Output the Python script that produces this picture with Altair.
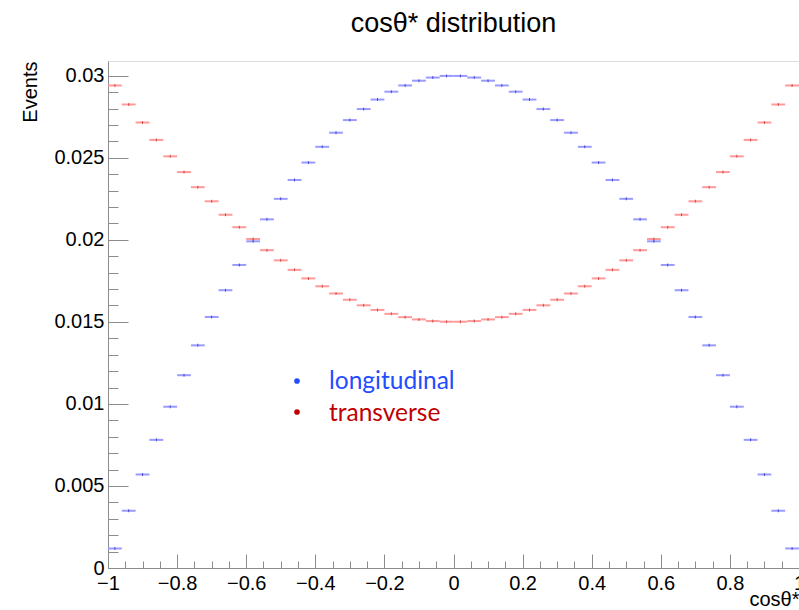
import altair as alt
import pandas as pd

# bin edges of the histogram (50 bins on [-1, 1])
edges = [-1.00, -0.96, -0.92, -0.88, -0.84, -0.80, -0.76, -0.72, -0.68, -0.64,
         -0.60, -0.56, -0.52, -0.48, -0.44, -0.40, -0.36, -0.32, -0.28, -0.24,
         -0.20, -0.16, -0.12, -0.08, -0.04, 0.00, 0.04, 0.08, 0.12, 0.16,
         0.20, 0.24, 0.28, 0.32, 0.36, 0.40, 0.44, 0.48, 0.52, 0.56,
         0.60, 0.64, 0.68, 0.72, 0.76, 0.80, 0.84, 0.88, 0.92, 0.96, 1.00]

longitudinal = [0.00119, 0.00349, 0.00570, 0.00781, 0.00983, 0.01175, 0.01357, 0.01530, 0.01693, 0.01847,
                0.01991, 0.02125, 0.02250, 0.02365, 0.02471, 0.02567, 0.02653, 0.02730, 0.02797, 0.02855,
                0.02903, 0.02941, 0.02970, 0.02989, 0.02999, 0.02999, 0.02989, 0.02970, 0.02941, 0.02903,
                0.02855, 0.02797, 0.02730, 0.02653, 0.02567, 0.02471, 0.02365, 0.02250, 0.02125, 0.01991,
                0.01847, 0.01693, 0.01530, 0.01357, 0.01175, 0.00983, 0.00781, 0.00570, 0.00349, 0.00119]

transverse = [0.02941, 0.02825, 0.02715, 0.02609, 0.02509, 0.02413, 0.02321, 0.02235, 0.02153, 0.02077,
              0.02005, 0.01937, 0.01875, 0.01817, 0.01765, 0.01717, 0.01673, 0.01635, 0.01601, 0.01573,
              0.01549, 0.01529, 0.01515, 0.01505, 0.01501, 0.01501, 0.01505, 0.01515, 0.01529, 0.01549,
              0.01573, 0.01601, 0.01635, 0.01673, 0.01717, 0.01765, 0.01817, 0.01875, 0.01937, 0.02005,
              0.02077, 0.02153, 0.02235, 0.02321, 0.02413, 0.02509, 0.02609, 0.02715, 0.02825, 0.02941]

x_major = [-1, -0.8, -0.6, -0.4, -0.2, 0, 0.2, 0.4, 0.6, 0.8, 1]
x_minor = [round(-1 + 0.05 * i, 2) for i in range(41)]
y_major = [0, 0.005, 0.01, 0.015, 0.02, 0.025, 0.03]
y_minor = [round(0.001 * i, 3) for i in range(31)]

lo = edges[:-1]
hi = edges[1:]
centers = [(a + b) / 2 for a, b in zip(lo, hi)]
df_l = pd.DataFrame({"xlo": lo, "xhi": hi, "x": centers, "v": longitudinal})
df_t = pd.DataFrame({"xlo": lo, "xhi": hi, "x": centers, "v": transverse})

FONT = "Liberation Sans"
GREY = "#8c8c8c"
xs = alt.Scale(domain=[-1, 1], nice=False, zero=False)
ys = alt.Scale(domain=[0, 0.0309], nice=False, zero=False)

main_x = alt.Axis(orient="bottom", values=x_major, format="~g", ticks=False, tickSize=0,
                  labelFont=FONT, labelFontSize=20, labelColor="black", labelPadding=5,
                  labelFlush=False, labelOverlap=False, labelBound=False,
                  domainColor=GREY, grid=False,
                  titleFont=FONT, titleFontSize=20, titleFontWeight="normal", titleColor="black",
                  titleX=691, titleY=37, titleAlign="right", titleBaseline="alphabetic")
main_y = alt.Axis(orient="left", values=y_major, format="~g", ticks=False, tickSize=0,
                  labelFont=FONT, labelFontSize=20, labelColor="black", labelPadding=4,
                  labelOverlap=False, labelBound=False, labelFlush=False,
                  domainColor=GREY, grid=False,
                  titleFont=FONT, titleFontSize=20, titleFontWeight="normal", titleColor="black",
                  titleAngle=270, titleX=-72, titleY=0, titleAlign="right", titleBaseline="alphabetic")

def tick_axis(orient, values, size):
    return alt.Axis(orient=orient, values=values, offset=-size, tickSize=size, ticks=True,
                    tickColor=GREY, tickWidth=1, labels=False, domain=False, grid=False)

rule_l = alt.Chart(df_l).mark_rule(color="#9a9aff", strokeWidth=2).encode(
    x=alt.X("xlo:Q", scale=xs, axis=main_x, title="cosθ*"),
    x2="xhi:Q",
    y=alt.Y("v:Q", scale=ys, axis=main_y, title="Events"),
)
rule_t = alt.Chart(df_t).mark_rule(color="#ff9a9a", strokeWidth=2).encode(
    x=alt.X("xlo:Q", scale=xs, axis=tick_axis("bottom", x_major, 14), title=None),
    x2="xhi:Q",
    y=alt.Y("v:Q", scale=ys, axis=tick_axis("left", y_major, 20), title=None),
)
dot_l = alt.Chart(df_l).mark_tick(orient="vertical", size=3, thickness=1, color="#2020c0").encode(
    x=alt.X("x:Q", scale=xs, axis=tick_axis("bottom", x_minor, 7), title=None),
    y=alt.Y("v:Q", scale=ys, axis=tick_axis("left", y_minor, 10), title=None),
)
dot_t = alt.Chart(df_t).mark_tick(orient="vertical", size=3, thickness=1, color="#c02020").encode(
    x=alt.X("x:Q", scale=xs, axis=None),
    y=alt.Y("v:Q", scale=ys, axis=None),
)

leg_blue = "#1f4dff"
leg_red = "#c00000"
LFONT = "Lato"
b1 = alt.Chart(pd.DataFrame({"t": ["longitudinal"]})).mark_circle(size=32, color=leg_blue, opacity=1).encode(
    x=alt.value(189), y=alt.value(320))
b2 = alt.Chart(pd.DataFrame({"t": ["transverse"]})).mark_circle(size=32, color=leg_red, opacity=1).encode(
    x=alt.value(189), y=alt.value(351))
t1 = alt.Chart(pd.DataFrame({"t": ["longitudinal"]})).mark_text(
    font=LFONT, fontSize=24.5, color=leg_blue, align="left", baseline="alphabetic").encode(
    text="t:N", x=alt.value(221), y=alt.value(328))
t2 = alt.Chart(pd.DataFrame({"t": ["transverse"]})).mark_text(
    font=LFONT, fontSize=24.5, color=leg_red, align="left", baseline="alphabetic").encode(
    text="t:N", x=alt.value(221), y=alt.value(360))

chart = alt.layer(rule_t, rule_l, dot_l, dot_t, b1, b2, t1, t2).resolve_axis(
    x="independent", y="independent"
).properties(
    width=691, height=507,
    padding={"left": 108, "top": 61, "right": 0, "bottom": 42},
    autosize=alt.AutoSizeParams(type="none"),
    title=alt.TitleParams(text="cosθ* distribution", font=FONT, fontSize=27, fontWeight="normal",
                          color="black", anchor="middle", offset=23),
).configure_view(stroke=GREY, strokeWidth=1).configure(background="white")

chart.save("out.html", embed_options={"renderer": "svg", "actions": False})
